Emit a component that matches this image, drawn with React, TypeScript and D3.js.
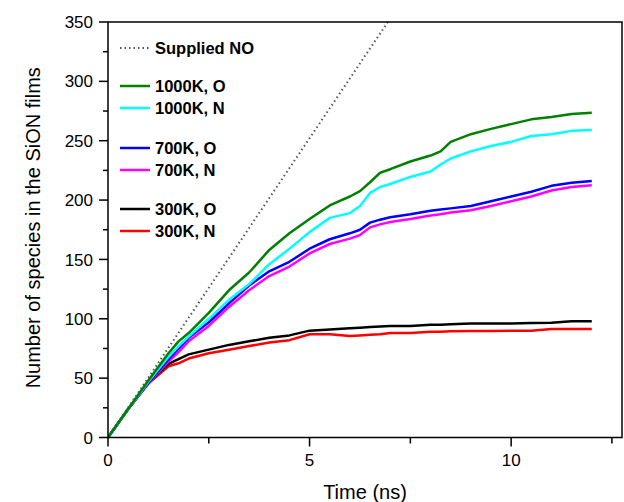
import React from "react";
import * as d3 from "d3";

const time = [0, 0.5, 1, 1.5, 1.75, 2, 2.5, 3, 3.5, 4, 4.5, 5, 5.5, 6, 6.25, 6.5, 6.75, 7, 7.5, 8, 8.25, 8.5, 9, 9.5, 10, 10.5, 11, 11.5, 12];
const k1000O = [0, 24, 48, 71, 81, 88, 105, 124, 139, 158, 172, 184, 195.5, 203, 207.5, 215, 223, 226, 232.5, 237.5, 241, 249, 255.5, 260, 264, 268, 270, 272.5, 273.5];
const k1000N = [0, 24, 47, 68, 77, 85, 100, 116, 129, 146, 159, 173, 185, 189, 195, 206, 211, 213.5, 219.5, 224, 230, 235, 241, 245.5, 249, 254, 255.5, 258.3, 259];
const k700O = [0, 24, 46, 66, 75, 84, 97, 113, 128, 140, 148, 159, 167, 172, 175, 181, 183.5, 185.5, 188, 191, 192, 193, 195, 199, 203, 207, 212, 214.5, 216];
const k700N = [0, 24, 45.5, 64, 72, 81, 94, 110, 124, 136, 144, 155, 163, 167.5, 170.5, 177, 179.5, 181.5, 184, 187, 188, 189.5, 191.5, 195, 199, 203, 208, 211, 212.5];
const k300O = [0, 24, 46, 62, 66, 70, 74, 78, 81, 84, 86, 90, 91, 92, 92.5, 93, 93.5, 94, 94, 95, 95, 95.5, 96, 96, 96, 96.5, 96.7, 98, 98];
const k300N = [0, 24, 45.5, 60, 62.5, 66.5, 71, 74, 77, 80, 82, 87, 87, 85.5, 86, 86.5, 87, 88, 88, 89, 89, 89.5, 89.7, 89.7, 90, 90, 91.4, 91.4, 91.5];
const suppliedTime = [0, 12];
const suppliedNO = [0, 605];

const yTicks = [0, 50, 100, 150, 200, 250, 300, 350];
const yMinor = [25, 75, 125, 175, 225, 275, 325];
const xTicks = [0, 5, 10];
const xMinor = [2.5, 7.5, 12.5];

const series = [
  { name: "300K, N", values: k300N, color: "#ff0000" },
  { name: "300K, O", values: k300O, color: "#000000" },
  { name: "700K, N", values: k700N, color: "#ff00ff" },
  { name: "700K, O", values: k700O, color: "#0000ff" },
  { name: "1000K, N", values: k1000N, color: "#00ffff" },
  { name: "1000K, O", values: k1000O, color: "#008000" },
];

const legendOrder = ["1000K, O", "1000K, N", "700K, O", "700K, N", "300K, O", "300K, N"];
const legendY = [86, 108, 148, 170, 209, 231];

export default function App() {
  const x = d3.scaleLinear().domain([0, 12.75]).range([108, 622]);
  const y = d3.scaleLinear().domain([0, 350]).range([437.5, 22]);
  const line = d3
    .line<number>()
    .x((_, i) => x(time[i]))
    .y((d) => y(d));
  const sLine = d3
    .line<number>()
    .x((_, i) => x(suppliedTime[i]))
    .y((d) => y(d));
  const font = "'Liberation Sans', Arial, sans-serif";
  return (
    <svg width={624} height={502} style={{ position: "absolute", left: 0, top: 0, background: "#fff" }} fontFamily={font}>
      <defs>
        <clipPath id="plot">
          <rect x={108} y={22} width={514} height={415.5} />
        </clipPath>
      </defs>
      <rect x={0} y={0} width={624} height={502} fill="#fff" />
      <g clipPath="url(#plot)">
        <path d={sLine(suppliedNO) || ""} fill="none" stroke="#555" strokeWidth={2} strokeDasharray="1.5,3" />
        {series.map((s) => (
          <path key={s.name} d={line(s.values) || ""} fill="none" stroke={s.color} strokeWidth={2.5} strokeLinejoin="round" />
        ))}
      </g>
      <rect x={x(0)} y={y(350)} width={x(12.75) - x(0)} height={y(0) - y(350)} fill="none" stroke="#000" strokeWidth={1.5} />
      {yTicks.map((t) => (
        <g key={"y" + t}>
          <line x1={x(0) - 9} x2={x(0)} y1={y(t)} y2={y(t)} stroke="#000" strokeWidth={1.5} />
          <text x={x(0) - 15} y={y(t)} dy="0.36em" textAnchor="end" fontSize={17} fill="#000">
            {t}
          </text>
        </g>
      ))}
      {yMinor.map((t) => (
        <line key={"ym" + t} x1={x(0) - 5} x2={x(0)} y1={y(t)} y2={y(t)} stroke="#000" strokeWidth={1.5} />
      ))}
      {xTicks.map((t) => (
        <g key={"x" + t}>
          <line x1={x(t)} x2={x(t)} y1={y(0)} y2={y(0) + 9} stroke="#000" strokeWidth={1.5} />
          <text x={x(t)} y={466} textAnchor="middle" fontSize={17} fill="#000">
            {t}
          </text>
        </g>
      ))}
      {xMinor.map((t) => (
        <line key={"xm" + t} x1={x(t)} x2={x(t)} y1={y(0)} y2={y(0) + 6} stroke="#000" strokeWidth={1.5} />
      ))}
      <text x={(x(0) + x(12.75)) / 2} y={499} textAnchor="middle" fontSize={20} fill="#000">
        Time (ns)
      </text>
      <text transform={`translate(40,${(y(0) + y(350)) / 2 - 2}) rotate(-90)`} textAnchor="middle" fontSize={20} fill="#000">
        Number of species in the SiON films
      </text>
      <g fontWeight="bold" fontSize={16.5}>
        <line x1={120} x2={149} y1={48} y2={48} stroke="#555" strokeWidth={2} strokeDasharray="1.5,3" />
        <text x={155} y={48} dy="0.35em" fill="#000">Supplied NO</text>
        {legendOrder.map((n, i) => {
          const s = series.find((q) => q.name === n)!;
          return (
            <g key={"l" + n}>
              <line x1={120} x2={150} y1={legendY[i]} y2={legendY[i]} stroke={s.color} strokeWidth={2.5} />
              <text x={155} y={legendY[i]} dy="0.35em" fill="#000">
                {n}
              </text>
            </g>
          );
        })}
      </g>
    </svg>
  );
}
